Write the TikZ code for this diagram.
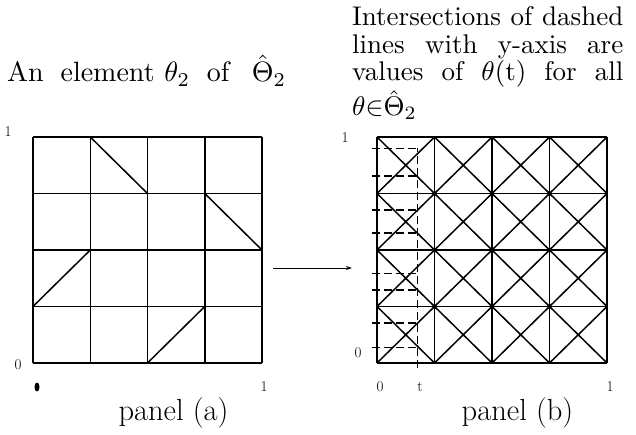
\documentclass[tikz,border=0pt]{standalone}
\usepackage{graphicx}
\usetikzlibrary{arrows.meta}
\newcommand{\capsize}{\fontsize{30.5}{32}\selectfont}
\newcommand{\smallsize}{\fontsize{15}{17}\selectfont}
\newcommand{\headsize}{\fontsize{10}{10.3}\selectfont}
\begin{document}
\begin{tikzpicture}[x=1pt,y=-1pt,
  gridline/.style={line width=1.5pt},
  dashline/.style={line width=1.3pt,dash pattern=on 8pt off 4pt},
  axlabel/.style={font=\smallsize,inner sep=0pt},
  caption/.style={font=\capsize,inner sep=0pt,anchor=base}]
  \useasboundingbox (0,0) rectangle (636,435);
  %
  \node[inner sep=0pt,anchor=base west] (headA) at (7,82)
    {\scalebox{2.8}{\headsize An\hspace{6pt}element\hspace{3.5pt}$\theta_2$\hspace{6pt}of\hspace{8pt}$\hat{\Theta}_2$}};
  \node[inner sep=0pt,anchor=north west] (headB) at (352,6)
    {\scalebox{2.7}{\headsize\begin{minipage}{100.4pt}
     \makebox[\linewidth][s]{Intersections of dashed}\\
     \makebox[\linewidth][s]{lines with y-axis are}\\
     \makebox[\linewidth][s]{values of $\theta$(t) for all}\\
     $\theta{\in}\hat{\Theta}_2$\end{minipage}}};
  %
  % panel (a)
  \begin{scope}[shift={(33,363)},x=57.25pt,y=56.5pt]
    \foreach \i in {0,...,4} {
      \draw[gridline] (\i,0) -- (\i,4);
      \draw[gridline] (0,\i) -- (4,\i);
    }
    \draw[gridline] (2,0) -- (3,1) (0,1) -- (1,2) (3,3) -- (4,2) (1,4) -- (2,3);
  \end{scope}
  \node[axlabel] (a1) at (8,132) {1};
  \node[axlabel] (a0) at (18,365) {0};
  \fill (37,387) ellipse (2.5pt and 4.5pt);
  \node[axlabel] (ax1) at (264,387) {1};
  \node[caption] (capA) at (173.5,420) {panel (a)};
  %
  % panel (b)
  \begin{scope}[shift={(377,363)},x=57.5pt,y=56.5pt]
    \foreach \i in {0,...,4} {
      \draw[gridline] (\i,0) -- (\i,4);
      \draw[gridline] (0,\i) -- (4,\i);
    }
    \foreach \i in {0,...,3}
      \foreach \j in {0,...,3}
        \draw[gridline] (\i,\j) -- ++(1,1) (\i,\j+1) -- ++(1,-1);
    \foreach \i in {1,2,3}
      \foreach \j in {1,2,3}
        \fill (\i,\j) circle (2.3pt);
    \draw[dashline] (0.7,-0.09) -- (0.7,3.8);
    \foreach \h in {0.28,0.71,1.29,1.59,2.30,2.71,3.31,3.8}
      \draw[dashline] (-0.09,\h) -- (0.7,\h);
  \end{scope}
  \node[axlabel] (b1) at (345,138) {1};
  \node[axlabel] (b0) at (358,353) {0};
  \node[axlabel] (bx0) at (380,387) {0};
  \node[axlabel] (bxt) at (420,387) {t};
  \node[axlabel] (bx1) at (610,387) {1};
  \node[caption] (capB) at (517.5,420) {panel (b)};
  %
  \coordinate (arrA) at (273,268);
  \coordinate (arrB) at (352,268);
  \draw[line width=1pt,-{Stealth[length=6pt,width=4pt]}] (arrA) -- (arrB);
\end{tikzpicture}
\end{document}
